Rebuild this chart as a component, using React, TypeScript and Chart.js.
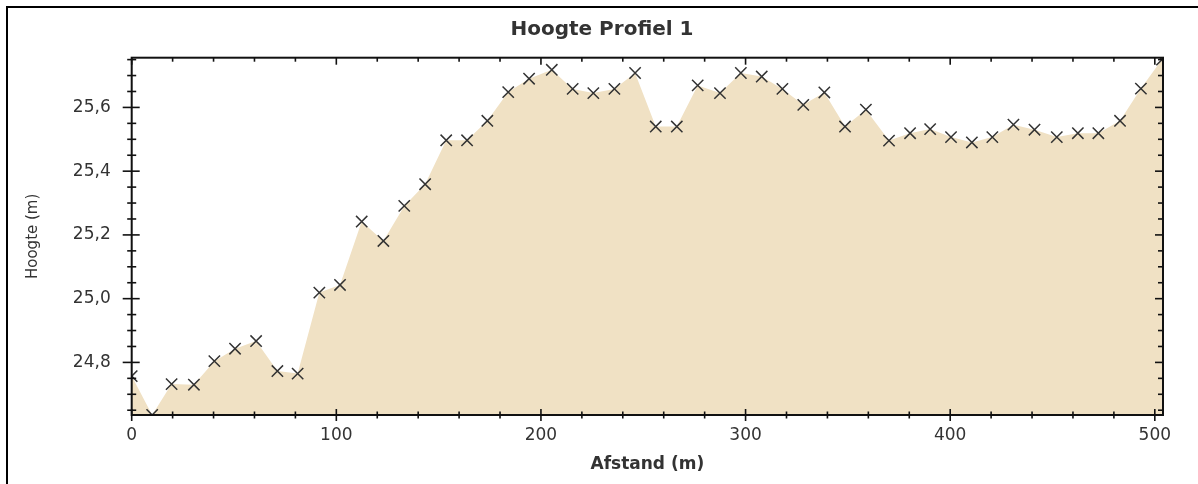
import React, { useEffect, useRef } from "react";
import { Chart, registerables } from "chart.js";

Chart.register(...registerables);

// Distance along the profile (m)
const distances = [
  0, 10, 19.5, 30.4, 40.4, 50.5, 60.8, 71.2, 81.1, 91.7,
  101.8, 112.4, 123, 133.2, 143.4, 153.7, 163.9, 173.8, 184, 194.2,
  205.3, 215.5, 225.6, 235.9, 246, 256.1, 266.4, 276.6, 287.5, 297.7,
  307.9, 318, 328.2, 338.5, 348.6, 358.8, 370.1, 380.4, 390.2, 400.4,
  410.6, 420.6, 430.9, 441.2, 452.1, 462.4, 472.4, 483, 493.2, 503.5,
];

// Height (m)
const heights = [
  24.757, 24.635, 24.732, 24.73, 24.804, 24.843, 24.867, 24.773, 24.765, 25.019,
  25.043, 25.242, 25.181, 25.291, 25.359, 25.497, 25.497, 25.558, 25.648, 25.69,
  25.718, 25.658, 25.645, 25.658, 25.708, 25.54, 25.54, 25.669, 25.645, 25.708,
  25.697, 25.658, 25.608, 25.647, 25.54, 25.593, 25.496, 25.519, 25.532, 25.507,
  25.49, 25.507, 25.546, 25.53, 25.507, 25.519, 25.519, 25.558, 25.659, 25.75,
];

const xMajorTicks = [0, 100, 200, 300, 400, 500];
const xMinorTicks = [20, 40, 60, 80, 120, 140, 160, 180, 220, 240, 260, 280, 320, 340, 360, 380, 420, 440, 460, 480];
const yMajorTicks = [24.8, 25.0, 25.2, 25.4, 25.6];
const yMinorTicks = [24.65, 24.7, 24.75, 24.85, 24.9, 24.95, 25.05, 25.1, 25.15, 25.25, 25.3, 25.35, 25.45, 25.5, 25.55, 25.65, 25.7, 25.75];

const chartTitle = "Hoogte Profiel 1";
const xTitle = "Afstand (m)";
const yTitle = "Hoogte (m)";

const FONT = "'DejaVu Sans', 'Liberation Sans', sans-serif";

const boxAxesPlugin = {
  id: "boxAxes",
  beforeDraw(chart: any) {
    const { ctx } = chart;
    ctx.save();
    ctx.fillStyle = "#ffffff";
    ctx.fillRect(0, 0, chart.width, chart.height);
    ctx.strokeStyle = "#000";
    ctx.lineWidth = 2;
    ctx.beginPath();
    ctx.moveTo(7, chart.height);
    ctx.lineTo(7, 7);
    ctx.lineTo(chart.width, 7);
    ctx.stroke();
    ctx.restore();
  },
  afterDatasetsDraw(chart: any) {
    const { ctx, chartArea: a, scales } = chart;
    const xs = scales.x;
    const ys = scales.y;
    ctx.save();
    ctx.strokeStyle = "#111";
    ctx.lineWidth = 2;
    ctx.strokeRect(a.left, a.top, a.right - a.left, a.bottom - a.top);
    ctx.lineWidth = 1.6;
    const seg = (x1: number, y1: number, x2: number, y2: number) => {
      ctx.beginPath();
      ctx.moveTo(x1, y1);
      ctx.lineTo(x2, y2);
      ctx.stroke();
    };
    xMajorTicks.forEach((v) => {
      const p = xs.getPixelForValue(v);
      seg(p, a.bottom - 6, p, a.bottom + 6);
      seg(p, a.top, p, a.top + 7);
    });
    xMinorTicks.forEach((v) => {
      const p = xs.getPixelForValue(v);
      seg(p, a.bottom - 3.5, p, a.bottom + 3.5);
      seg(p, a.top, p, a.top + 4);
    });
    yMajorTicks.forEach((v) => {
      const p = ys.getPixelForValue(v);
      seg(a.left - 9, p, a.left + 8, p);
      seg(a.right - 8, p, a.right, p);
    });
    yMinorTicks.forEach((v) => {
      const p = ys.getPixelForValue(v);
      seg(a.left - 4.5, p, a.left + 4.5, p);
      seg(a.right - 5, p, a.right, p);
    });
    ctx.restore();
  },
};

export default function App() {
  const canvasRef = useRef<HTMLCanvasElement | null>(null);

  useEffect(() => {
    if (!canvasRef.current) return;
    const points = distances.map((d, i) => ({ x: d, y: heights[i] }));
    const chart = new Chart(canvasRef.current, {
      type: "line",
      data: {
        datasets: [
          {
            data: points,
            fill: "start",
            backgroundColor: "rgb(240, 225, 196)",
            borderColor: "rgba(0,0,0,0)",
            borderWidth: 0,
            tension: 0,
            pointStyle: "crossRot",
            pointRadius: 8,
            pointHoverRadius: 8,
            pointBorderColor: "#333",
            pointBorderWidth: 1.5,
            clip: 0,
          } as any,
        ],
      },
      options: {
        animation: false,
        responsive: false,
        layout: { padding: { left: 41, right: 35, top: 0, bottom: 0 } },
        plugins: {
          legend: { display: false },
          tooltip: { enabled: false },
          title: {
            display: true,
            text: chartTitle,
            color: "#333",
            font: { family: FONT, size: 20, weight: "bold" },
            padding: { top: 18, bottom: 15.7 },
          },
        },
        scales: {
          x: {
            type: "linear",
            min: 0,
            max: 504,
            grid: { display: false, drawTicks: false },
            border: { display: false },
            afterBuildTicks: (scale: any) => {
              scale.ticks = xMajorTicks.map((v) => ({ value: v }));
            },
            afterFit: (scale: any) => {
              scale.height = 69;
            },
            ticks: {
              color: "#333",
              padding: 10.8,
              maxRotation: 0,
              autoSkip: false,
              font: { family: FONT, size: 17 },
              callback: (v: any) => String(v),
            },
            title: {
              display: true,
              text: xTitle,
              color: "#333",
              font: { family: FONT, size: 17, weight: "bold" },
              padding: { top: 0, bottom: 9.5 },
            },
          },
          y: {
            type: "linear",
            min: 24.635,
            max: 25.756,
            grid: { display: false, drawTicks: false },
            border: { display: false },
            afterBuildTicks: (scale: any) => {
              scale.ticks = yMajorTicks.map((v) => ({ value: v }));
            },
            afterFit: (scale: any) => {
              scale.width = 90.7;
            },
            ticks: {
              color: "#333",
              padding: 21,
              autoSkip: false,
              font: { family: FONT, size: 17 },
              callback: (v: any) => Number(v).toFixed(1).replace(".", ","),
            },
            title: {
              display: true,
              text: yTitle,
              color: "#333",
              font: { family: FONT, size: 15 },
              padding: { top: -17, bottom: 0 },
            },
          },
        },
      },
      plugins: [boxAxesPlugin],
    });
    return () => chart.destroy();
  }, []);

  return (
    <div style={{ position: "fixed", left: 0, top: 0, width: 1198, height: 484, background: "#fff" }}>
      <canvas ref={canvasRef} width={1198} height={484} style={{ display: "block", width: 1198, height: 484 }} />
    </div>
  );
}
